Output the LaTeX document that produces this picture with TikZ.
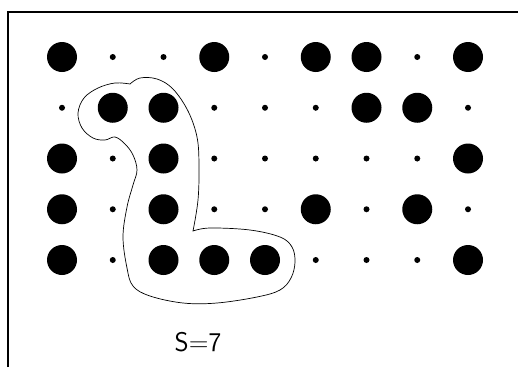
\documentclass[tikz,border=0pt]{standalone}
\usepackage{tikz}
\usetikzlibrary{positioning}
\definecolor{pl-tinta}{HTML}{000000}

\tikzset{
  moldura/.style={pl-tinta, line width=2pt},
  contorno/.style={pl-tinta, line width=0.7pt},
  rotulo/.style={pl-tinta, font=\fontsize{27}{27}\selectfont\sffamily}
}

\begin{document}
\begin{tikzpicture}[x=1pt, y=-1pt]

    % Caixa da imagem (518 x 367)
    \useasboundingbox (0,0) rectangle (518,367);

    % Moldura: apenas topo e lado esquerdo
    \draw[moldura] (8,367) -- (8,12) -- (518,12);

    % Grade 9 x 5: 1 = ponto grande, 0 = ponto pequeno
    \foreach \linha/\padrao in {0/{1,0,0,1,0,1,1,0,1},
                                1/{0,1,1,0,0,0,1,1,0},
                                2/{1,0,1,0,0,0,0,0,1},
                                3/{1,0,1,0,0,1,0,1,0},
                                4/{1,0,1,1,1,0,0,0,1}}
      \foreach \v [count=\col from 0] in \padrao {
        \pgfmathsetmacro\raio{3+12*\v}
        \fill[pl-tinta] ({62+50.75*\col},{57+50.75*\linha}) circle[radius=\raio pt];
      }

    % Contorno do aglomerado
    \draw[contorno] plot[smooth, tension=0.6] coordinates {(130,84) (140,78) (157,79) (173,89) (188,111) (197,137) (199,165) (198,200) (193,231)}
      -- plot[smooth, tension=0.6] coordinates {(193,231) (210,228) (250,230) (280,237) (292,247) (295,262) (291,278) (280,290) (257,297) (217,303) (183,303) (150,296) (133,286) (127,268) (123,237) (127,207) (133,185) (137,170) (133,155) (125,144) (115,137) (105,140) (93,138) (82,128) (78,113) (84,98) (98,88) (115,83) (130,84)}
      -- cycle;

    % Rotulo do tamanho
    \node[rotulo] (tamanho) at (198,342) {S=7};

\end{tikzpicture}
\end{document}
